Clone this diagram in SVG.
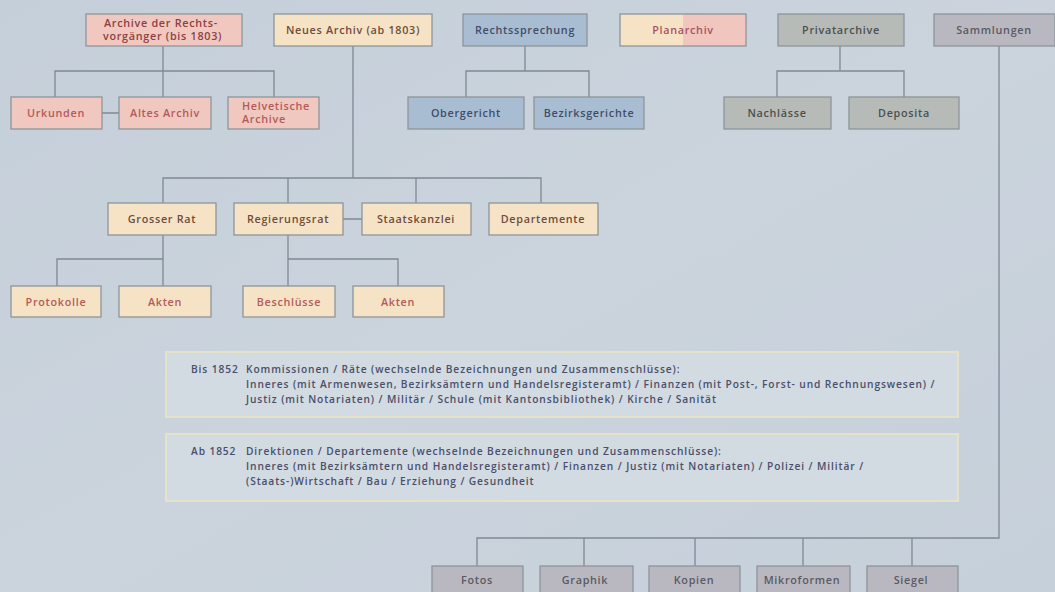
<svg xmlns="http://www.w3.org/2000/svg" width="1055" height="592" viewBox="0 0 1055 592">
<defs>
<linearGradient id="bg" x1="0" y1="0" x2="1" y2="1">
<stop offset="0" stop-color="#c5cfd9"/>
<stop offset="0.5" stop-color="#cbd4dd"/>
<stop offset="1" stop-color="#c6d0da"/>
</linearGradient>
<linearGradient id="plan" x1="0" y1="0" x2="1" y2="0">
<stop offset="0.5" stop-color="#f6e3c6"/>
<stop offset="0.5" stop-color="#f1c6bf"/>
</linearGradient>
<style>
.b{stroke:#8d959b;stroke-width:1.3}
.pk{fill:#f0c8c0}
.cr{fill:#f6e3c6}
.bl{fill:#a9bdd2}
.gn{fill:#b6bbb7}
.sm{fill:#b9b8c0}
text{font-family:"Open Sans","Noto Sans",sans-serif;font-size:10.8px;letter-spacing:0.7px;font-weight:600;text-anchor:middle}
.tpk{fill:#b35a5a}
.tpk2{fill:#8e3f42}
.tcr{fill:#6e4c3c}
.tbl{fill:#3f4d68}
.tgn{fill:#4c4f50}
.tsm{fill:#5a5a63}
.tpl{fill:#a8525e}
.l{text-anchor:start}
#connectors path{fill:none;stroke:#7d8994;stroke-width:1.3}
.note{fill:#d2dae2;stroke:#e6e2c9;stroke-width:2}
text.nt{text-anchor:start;fill:#4a4f6a;font-size:10.2px;letter-spacing:0.9px;font-weight:600}
</style>
</defs>
<rect width="1055" height="592" fill="url(#bg)"/>

<g id="connectors">
<path d="M163 46V97M55 97V71H274V97M102 113H119"/>
<path d="M353 46V178M163 203V178H541V203M288 178V203M416 178V203M343 219H362"/>
<path d="M163 235V286M57 286V259H163M288 235V286M288 259H398V286"/>
<path d="M525 46V71M466 97V71H589V97"/>
<path d="M840 46V71M777 97V71H904V97"/>
<path d="M999 46V538H477V566M584 538V566M695 538V566M803 538V566M912 538V566"/>
</g>

<g id="n-archive"><rect class="b pk" x="86" y="14" width="156" height="32"/><text class="tpk2 l" x="104" y="27">Archive der Rechts-</text><text class="tpk2 l" x="103" y="40">vorgänger (bis 1803)</text></g>
<g id="n-neues"><rect class="b cr" x="274" y="14" width="158" height="32"/><text class="tcr" x="353" y="34">Neues Archiv (ab 1803)</text></g>
<g id="n-recht"><rect class="b bl" x="463" y="14" width="124" height="32"/><text class="tbl" x="525" y="34">Rechtssprechung</text></g>
<g id="n-plan"><rect class="b" fill="url(#plan)" x="620" y="14" width="126" height="32"/><text class="tpl" x="683" y="34">Planarchiv</text></g>
<g id="n-privat"><rect class="b gn" x="778" y="14" width="126" height="32"/><text class="tgn" x="841" y="34">Privatarchive</text></g>
<g id="n-samm"><rect class="b sm" x="934" y="14" width="121" height="32"/><text class="tsm" x="994" y="34">Sammlungen</text></g>

<g id="n-urk"><rect class="b pk" x="11" y="97" width="91" height="32"/><text class="tpk" x="56" y="117">Urkunden</text></g>
<g id="n-altes"><rect class="b pk" x="119" y="97" width="92" height="32"/><text class="tpk" x="165" y="117">Altes Archiv</text></g>
<g id="n-helv"><rect class="b pk" x="228" y="97" width="91" height="32"/><text class="tpk l" x="242" y="110">Helvetische</text><text class="tpk l" x="242" y="123">Archive</text></g>
<g id="n-ober"><rect class="b bl" x="408" y="97" width="116" height="32"/><text class="tbl" x="466" y="117">Obergericht</text></g>
<g id="n-bez"><rect class="b bl" x="534" y="97" width="110" height="32"/><text class="tbl" x="589" y="117">Bezirksgerichte</text></g>
<g id="n-nach"><rect class="b gn" x="724" y="97" width="107" height="32"/><text class="tgn" x="777" y="117">Nachlässe</text></g>
<g id="n-depo"><rect class="b gn" x="849" y="97" width="110" height="32"/><text class="tgn" x="904" y="117">Deposita</text></g>

<g id="n-grosser"><rect class="b cr" x="108" y="203" width="108" height="32"/><text class="tcr" x="162" y="223">Grosser Rat</text></g>
<g id="n-regier"><rect class="b cr" x="234" y="203" width="109" height="32"/><text class="tcr" x="288" y="223">Regierungsrat</text></g>
<g id="n-staats"><rect class="b cr" x="362" y="203" width="109" height="32"/><text class="tcr" x="416" y="223">Staatskanzlei</text></g>
<g id="n-dep"><rect class="b cr" x="489" y="203" width="109" height="32"/><text class="tcr" x="543" y="223">Departemente</text></g>

<g id="n-proto"><rect class="b cr" x="11" y="286" width="90" height="31"/><text class="tpk" x="56" y="306">Protokolle</text></g>
<g id="n-akten1"><rect class="b cr" x="119" y="286" width="92" height="31"/><text class="tpk" x="165" y="306">Akten</text></g>
<g id="n-besch"><rect class="b cr" x="243" y="286" width="92" height="31"/><text class="tpk" x="289" y="306">Beschlüsse</text></g>
<g id="n-akten2"><rect class="b cr" x="353" y="286" width="91" height="31"/><text class="tpk" x="398" y="306">Akten</text></g>

<g id="n-bis1852"><rect class="note" x="166" y="352" width="792" height="65"/>
<text class="nt" x="191" y="373">Bis 1852</text>
<text class="nt" x="246" y="373">Kommissionen / Räte (wechselnde Bezeichnungen und Zusammenschlüsse):</text>
<text class="nt" x="246" y="388">Inneres (mit Armenwesen, Bezirksämtern und Handelsregisteramt) / Finanzen (mit Post-, Forst- und Rechnungswesen) /</text>
<text class="nt" x="246" y="403">Justiz (mit Notariaten) / Militär / Schule (mit Kantonsbibliothek) / Kirche / Sanität</text>
</g>
<g id="n-ab1852"><rect class="note" x="166" y="434" width="792" height="67"/>
<text class="nt" x="191" y="455">Ab 1852</text>
<text class="nt" x="246" y="455">Direktionen / Departemente (wechselnde Bezeichnungen und Zusammenschlüsse):</text>
<text class="nt" x="246" y="470">Inneres (mit Bezirksämtern und Handelsregisteramt) / Finanzen / Justiz (mit Notariaten) / Polizei / Militär /</text>
<text class="nt" x="246" y="485">(Staats-)Wirtschaft / Bau / Erziehung / Gesundheit</text>
</g>

<g id="n-fotos"><rect class="b sm" x="432" y="566" width="91" height="32"/><text class="tsm" x="477" y="584">Fotos</text></g>
<g id="n-graphik"><rect class="b sm" x="540" y="566" width="93" height="32"/><text class="tsm" x="585" y="584">Graphik</text></g>
<g id="n-kopien"><rect class="b sm" x="649" y="566" width="91" height="32"/><text class="tsm" x="694" y="584">Kopien</text></g>
<g id="n-mikro"><rect class="b sm" x="757" y="566" width="93" height="32"/><text class="tsm" x="802" y="584">Mikroformen</text></g>
<g id="n-siegel"><rect class="b sm" x="867" y="566" width="91" height="32"/><text class="tsm" x="911" y="584">Siegel</text></g>
</svg>
